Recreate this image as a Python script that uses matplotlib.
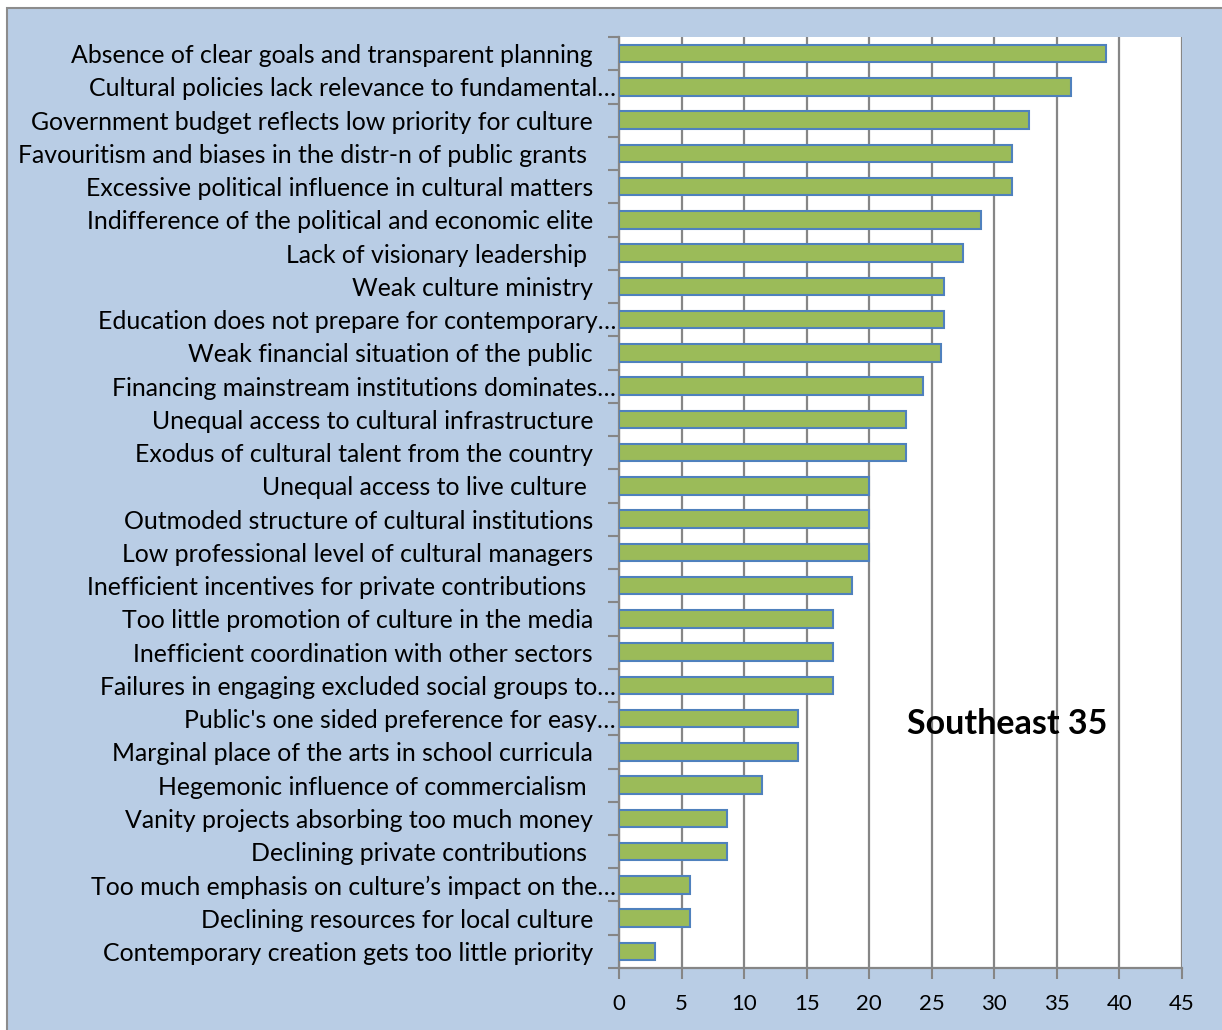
import matplotlib
matplotlib.use("Agg")
import matplotlib.pyplot as plt
from matplotlib.patches import Rectangle
import numpy as np

# Survey answers, listed top to bottom (percent of respondents)
categories = [
    "Absence of clear goals and transparent planning",
    "Cultural policies lack relevance to fundamental\u2026",
    "Government budget reflects low priority for culture",
    "Favouritism and biases in the distr-n of public grants ",
    "Excessive political influence in cultural matters",
    "Indifference of the political and economic elite",
    "Lack of visionary leadership ",
    "Weak culture ministry",
    "Education does not prepare for contemporary\u2026",
    "Weak financial situation of the public",
    "Financing mainstream institutions dominates\u2026",
    "Unequal access to cultural infrastructure",
    "Exodus of cultural talent from the country",
    "Unequal access to live culture ",
    "Outmoded structure of cultural institutions",
    "Low professional level of cultural managers",
    "Inefficient incentives for private contributions ",
    "Too little promotion of culture in the media",
    "Inefficient coordination with other sectors",
    "Failures in engaging excluded social groups to\u2026",
    "Public's one sided preference for easy\u2026",
    "Marginal place of the arts in school curricula",
    "Hegemonic influence of commercialism ",
    "Vanity projects absorbing too much money",
    "Declining private contributions ",
    "Too much emphasis on culture\u2019s impact on the\u2026",
    "Declining resources for local culture",
    "Contemporary creation gets too little priority",
]
values = [38.9, 36.1, 32.8, 31.4, 31.4, 28.9, 27.5, 26.0, 26.0, 25.7,
          24.3, 22.9, 22.9, 20.0, 20.0, 20.0, 18.6, 17.1, 17.1, 17.1,
          14.3, 14.3, 11.4, 8.6, 8.6, 5.7, 5.7, 2.9]
x_ticks = [0, 5, 10, 15, 20, 25, 30, 35, 40, 45]
chart_title = "Southeast 35"

FONT = "Lato"
BG = "#B9CDE5"
GRID = "#868686"

W, H = 1222, 1030
fig = plt.figure(figsize=(W / 100, H / 100), dpi=100, facecolor="white")

# chart area panel with thin grey frame
fig.patches.append(Rectangle((7 / W, -0.02), 1.05, 1 - 8 / H + 0.02,
                             transform=fig.transFigure, facecolor=BG,
                             edgecolor="#8C8C8C", linewidth=1.5, zorder=-5))

left, right, top, bottom = 619, 1182, 37, 968
ax = fig.add_axes([left / W, 1 - bottom / H, (right - left) / W, (bottom - top) / H])
ax.set_facecolor("white")

n = len(categories)
ypos = np.arange(n)
ax.barh(ypos, values, height=0.52, color="#9BBB59", edgecolor="#4F81BD",
        linewidth=1.5, zorder=3)

ax.set_xlim(0, 45)
ax.set_ylim(n - 0.5, -0.5)
ax.set_xticks(x_ticks)
ax.set_xticklabels([str(t) for t in x_ticks], fontsize=16, family=FONT)
ax.xaxis.grid(True, color=GRID, linewidth=1.6, zorder=1)
ax.set_axisbelow(True)
ax.tick_params(axis="x", length=8, width=1.5, color=GRID, pad=11, labelcolor="black")

# category boundaries carry the y tick marks
ax.set_yticks(np.arange(-0.5, n, 1.0))
ax.set_yticklabels([])
ax.tick_params(axis="y", length=8, width=1.5, color=GRID)

for side in ("top", "right"):
    ax.spines[side].set_visible(False)
for side in ("left", "bottom"):
    ax.spines[side].set_color(GRID)
    ax.spines[side].set_linewidth(1.6)

# category labels, right aligned next to the axis
for y, label in zip(ypos, categories):
    off = -3 if label.endswith("\u2026") else -26
    ax.annotate(label, xy=(0, y), xycoords=("axes fraction", "data"),
                xytext=(off, -2), textcoords="offset pixels",
                ha="right", va="center", fontsize=17.9, family=FONT,
                color="black", annotation_clip=False)

ax.text(0.689, 0.262, chart_title, transform=ax.transAxes, ha="center",
        va="center", fontsize=24.5, fontweight="bold", family=FONT, color="black")

fig.savefig("out.png", dpi=100, facecolor=fig.get_facecolor())
